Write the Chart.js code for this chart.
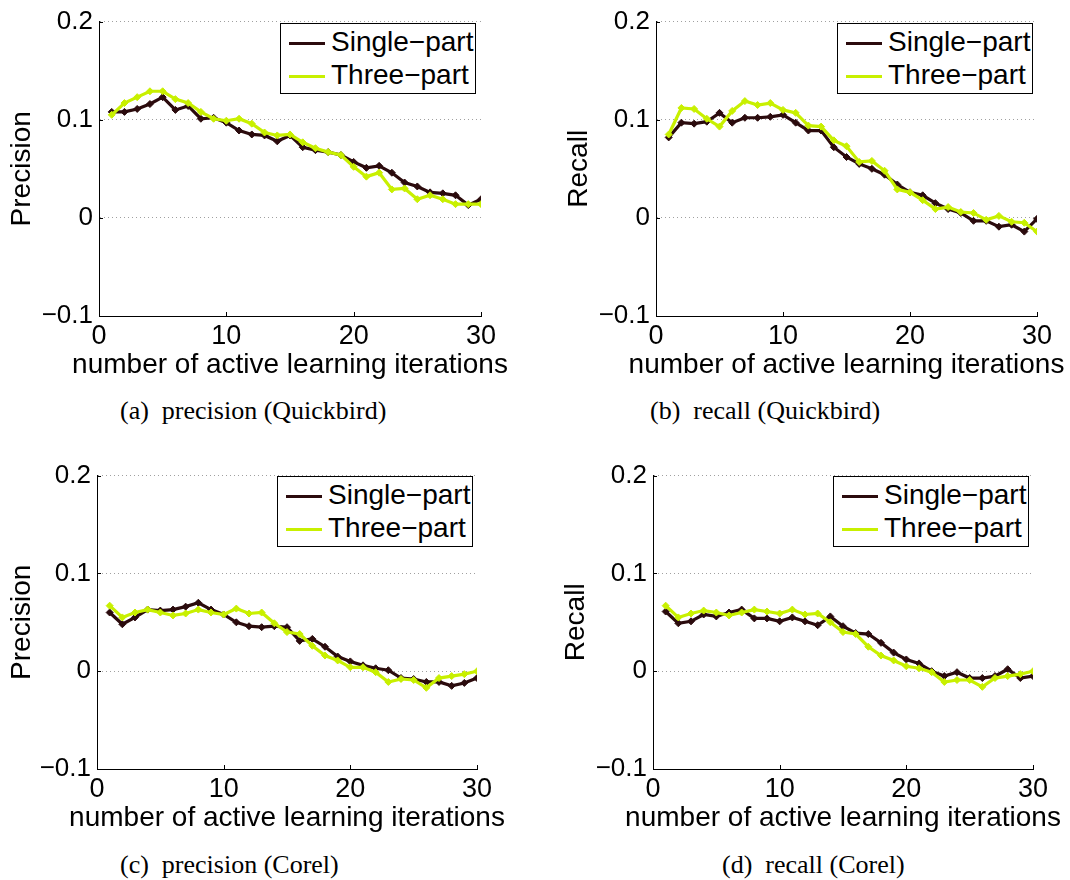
<!DOCTYPE html>
<html>
<head>
<meta charset="utf-8">
<script src="https://cdn.jsdelivr.net/npm/chart.js"></script>
<style>
  body { margin: 0; background: #fff; }
  #page { position: relative; width: 1070px; height: 880px; overflow: hidden; }
  .plot { position: absolute; }
  .legend {
    position: absolute; background: #fff; border: 1px solid #000;
    box-sizing: border-box; font-family: "Liberation Sans", Arial, sans-serif;
    font-size: 28px; color: #000;
  }
  .legend .row { position: absolute; left: 8px; height: 32px; line-height: 32px; white-space: nowrap; }
  .legend .swatch { display: inline-block; width: 36px; height: 3px; vertical-align: middle; margin-right: 6px; }
  .xlabel {
    position: absolute; font-family: "Liberation Sans", Arial, sans-serif;
    font-size: 28px; color: #000; white-space: nowrap; line-height: 32px;
    transform: translateX(-50%);
  }
  .caption {
    position: absolute; font-family: "Liberation Serif", "Times New Roman", serif;
    font-size: 26px; color: #000; white-space: nowrap; line-height: 30px;
  }
</style>
</head>
<body>
<div id="page"></div>
<script>
// x positions (iteration number)
const iterations = [1,2,3,4,5,6,7,8,9,10,11,12,13,14,15,16,17,18,19,20,21,22,23,24,25,26,27,28,29,30];

// (a) precision, Quickbird
const precQuickSingle = [0.108,0.108,0.111,0.116,0.123,0.110,0.114,0.101,0.102,0.097,0.089,0.085,0.084,0.078,0.084,0.072,0.069,0.067,0.064,0.057,0.051,0.053,0.046,0.036,0.032,0.026,0.025,0.023,0.013,0.019];
const precQuickThree  = [0.105,0.117,0.123,0.129,0.129,0.121,0.117,0.108,0.101,0.099,0.101,0.096,0.087,0.084,0.085,0.077,0.071,0.067,0.064,0.052,0.042,0.046,0.029,0.030,0.019,0.023,0.019,0.014,0.014,0.014];

// (b) recall, Quickbird
const recQuickSingle = [0.082,0.097,0.096,0.098,0.107,0.097,0.102,0.102,0.103,0.105,0.097,0.089,0.089,0.072,0.062,0.055,0.050,0.044,0.034,0.026,0.023,0.015,0.009,0.005,-0.003,-0.003,-0.009,-0.007,-0.014,-0.001];
const recQuickThree  = [0.085,0.112,0.111,0.101,0.093,0.109,0.119,0.115,0.117,0.110,0.107,0.094,0.093,0.079,0.073,0.057,0.058,0.048,0.029,0.026,0.018,0.009,0.011,0.006,0.005,-0.002,0.002,-0.004,-0.005,-0.014];

// (c) precision, Corel
const precCorelSingle = [0.060,0.048,0.055,0.063,0.062,0.063,0.066,0.070,0.063,0.058,0.050,0.046,0.045,0.046,0.045,0.031,0.033,0.025,0.015,0.010,0.006,0.003,0.001,-0.007,-0.008,-0.011,-0.011,-0.015,-0.012,-0.007];
const precCorelThree  = [0.067,0.055,0.060,0.063,0.060,0.057,0.059,0.063,0.060,0.058,0.064,0.059,0.060,0.049,0.040,0.038,0.026,0.016,0.011,0.004,0.004,-0.001,-0.011,-0.008,-0.009,-0.017,-0.007,-0.005,-0.003,0.000];

// (d) recall, Corel
const recCorelSingle = [0.061,0.049,0.051,0.058,0.056,0.060,0.063,0.054,0.054,0.051,0.055,0.051,0.047,0.056,0.046,0.039,0.038,0.029,0.019,0.012,0.008,0.000,-0.005,-0.001,-0.007,-0.007,-0.005,0.002,-0.007,-0.005];
const recCorelThree  = [0.067,0.055,0.059,0.062,0.060,0.057,0.060,0.063,0.061,0.059,0.063,0.058,0.059,0.050,0.040,0.038,0.025,0.016,0.011,0.005,0.003,-0.001,-0.011,-0.009,-0.009,-0.016,-0.007,-0.005,-0.003,0.000];

const seriesNames = ['Single\u2212part', 'Three\u2212part'];
const xTicks = [0, 10, 20, 30];
const xTickLabels = ['0', '10', '20', '30'];
const yTicks = [-0.1, 0, 0.1, 0.2];
const yTickLabels = ['\u22120.1', '0', '0.1', '0.2'];
const xTitle = 'number of active learning iterations';

const darkColor = '#2b0b0d';
const greenColor = '#c8f000';
const FONT = '"Liberation Sans", Arial, sans-serif';

// small inward tick marks, MATLAB style
const innerTicks = {
    id: 'innerTicks',
    afterDraw(chart) {
        const ctx = chart.ctx;
        const x = chart.scales.x, y = chart.scales.y;
        ctx.save();
        ctx.strokeStyle = '#000';
        ctx.lineWidth = 1;
        ctx.beginPath();
        xTicks.forEach(v => {
            const px = Math.round(x.getPixelForValue(v)) + 0.5;
            ctx.moveTo(px, y.bottom);
            ctx.lineTo(px, y.bottom - 4);
        });
        yTicks.forEach(v => {
            const py = Math.round(y.getPixelForValue(v)) + 0.5;
            ctx.moveTo(x.left, py);
            ctx.lineTo(x.left + 4, py);
        });
        ctx.stroke();
        ctx.restore();
    }
};

function makePanel(p) {
    const page = document.getElementById('page');
    const div = document.createElement('div');
    div.className = 'plot';
    div.style.left = p.left + 'px';
    div.style.top = p.top + 'px';
    const canvas = document.createElement('canvas');
    canvas.width = p.yw + p.plotW + 30;
    canvas.height = 17 + p.plotH + 64;
    div.appendChild(canvas);
    page.appendChild(div);

    new Chart(canvas, {
        type: 'line',
        data: {
            labels: iterations,
            datasets: [
                {
                    label: seriesNames[0],
                    data: iterations.map((it, i) => ({ x: it, y: p.single[i] })),
                    borderColor: darkColor,
                    backgroundColor: darkColor,
                    borderWidth: 3.2,
                    pointStyle: 'rectRot',
                    pointRadius: 3.5,
                    pointBorderWidth: 1,
                    tension: 0,
                    order: 2
                },
                {
                    label: seriesNames[1],
                    data: iterations.map((it, i) => ({ x: it, y: p.three[i] })),
                    borderColor: greenColor,
                    backgroundColor: greenColor,
                    borderWidth: 3.2,
                    pointStyle: 'rectRot',
                    pointRadius: 3.5,
                    pointBorderWidth: 1,
                    tension: 0,
                    order: 1
                }
            ]
        },
        options: {
            responsive: false,
            animation: false,
            layout: { padding: { top: 17, right: 30, left: 0, bottom: 0 } },
            plugins: {
                legend: { display: false },
                tooltip: { enabled: false }
            },
            scales: {
                x: {
                    type: 'linear',
                    min: 0,
                    max: 30,
                    afterBuildTicks: s => { s.ticks = xTicks.map(v => ({ value: v })); },
                    afterFit: s => { s.height = 64; },
                    grid: { display: false, drawTicks: false },
                    border: { display: true, color: '#000', width: 1 },
                    ticks: {
                        color: '#000',
                        padding: 4,
                        maxRotation: 0,
                        font: { family: FONT, size: 27 },
                        callback: v => xTickLabels[xTicks.indexOf(v)]
                    },
                    title: { display: false }
                },
                y: {
                    min: -0.1,
                    max: 0.2,
                    afterBuildTicks: s => { s.ticks = yTicks.map(v => ({ value: v })); },
                    afterFit: s => { s.width = p.yw; },
                    grid: {
                        drawTicks: false,
                        color: '#a0a0a0',
                        lineWidth: 1
                    },
                    border: { display: true, color: '#000', width: 1, dash: [1, 3] },
                    ticks: {
                        color: '#000',
                        padding: 6,
                        font: { family: FONT, size: 26 },
                        callback: v => {
                            const i = yTicks.findIndex(t => Math.abs(t - v) < 1e-9);
                            return i >= 0 ? yTickLabels[i] : '';
                        }
                    },
                    title: {
                        display: true,
                        text: p.yTitle,
                        color: '#000',
                        padding: { top: 5, bottom: 0 },
                        font: { family: FONT, size: 28 }
                    }
                }
            }
        },
        plugins: [innerTicks]
    });

    // x-axis label (HTML so it is not squeezed to the plot width)
    const xl = document.createElement('div');
    xl.className = 'xlabel';
    xl.style.left = (p.left + p.yw + p.plotW / 2) + 'px';
    xl.style.top = (p.top + 17 + p.plotH + 32) + 'px';
    xl.textContent = xTitle;
    page.appendChild(xl);

    // legend box inside the axes
    const lg = document.createElement('div');
    lg.className = 'legend';
    lg.style.left = p.legend[0] + 'px';
    lg.style.top = p.legend[1] + 'px';
    lg.style.width = '196px';
    lg.style.height = '71px';
    [darkColor, greenColor].forEach((c, i) => {
        const row = document.createElement('div');
        row.className = 'row';
        row.style.top = (2 + i * 33) + 'px';
        const sw = document.createElement('span');
        sw.className = 'swatch';
        sw.style.background = c;
        row.appendChild(sw);
        row.appendChild(document.createTextNode(seriesNames[i]));
        lg.appendChild(row);
    });
    page.appendChild(lg);

    const cap = document.createElement('div');
    cap.className = 'caption';
    cap.style.left = p.caption[0] + 'px';
    cap.style.top = (p.caption[1] - 15) + 'px';
    cap.textContent = p.captionText;
    page.appendChild(cap);
}

const panels = [
    { left: 0, top: 0, yw: 99, plotW: 382, plotH: 299, yTitle: 'Precision',
      single: precQuickSingle, three: precQuickThree,
      legend: [280, 23], caption: [120, 411], captionText: '(a)\u00a0 precision (Quickbird)' },
    { left: 557, top: 0, yw: 99, plotW: 381, plotH: 299, yTitle: 'Recall',
      single: recQuickSingle, three: recQuickThree,
      legend: [837, 23], caption: [650, 411], captionText: '(b)\u00a0 recall (Quickbird)' },
    { left: 0, top: 454, yw: 97, plotW: 380, plotH: 298, yTitle: 'Precision',
      single: precCorelSingle, three: precCorelThree,
      legend: [277, 476], caption: [120, 865], captionText: '(c)\u00a0 precision (Corel)' },
    { left: 554, top: 454, yw: 99, plotW: 380, plotH: 298, yTitle: 'Recall',
      single: recCorelSingle, three: recCorelThree,
      legend: [833, 476], caption: [722, 865], captionText: '(d)\u00a0 recall (Corel)' }
];

panels.forEach(makePanel);
</script>
</body>
</html>
